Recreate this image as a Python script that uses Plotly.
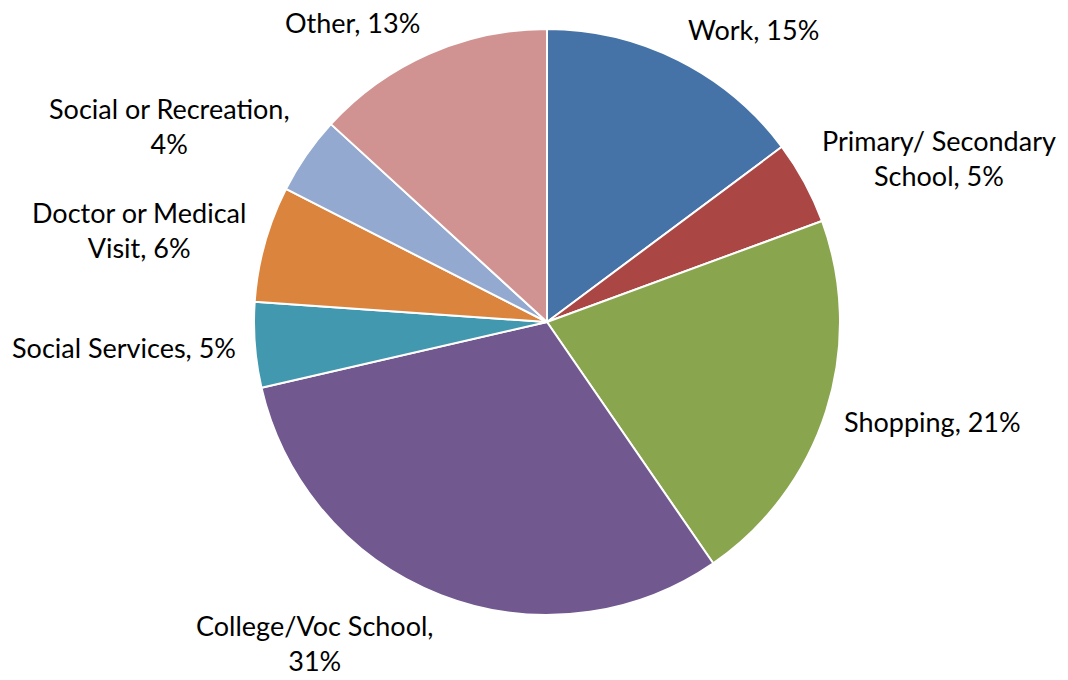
import math
import plotly.graph_objects as go

# Trip purposes, clockwise from 12 o'clock
categories = [
    "Work",
    "Primary/ Secondary School",
    "Shopping",
    "College/Voc School",
    "Social Services",
    "Doctor or Medical Visit",
    "Social or Recreation",
    "Other",
]
shares = [14.8, 4.6, 21.0, 31.0, 4.7, 6.4, 4.3, 13.2]
# Label text before the percentage (<br> marks the line break)
label_names = [
    "Work,",
    "Primary/ Secondary<br>School,",
    "Shopping,",
    "College/Voc School,<br>",
    "Social Services,",
    "Doctor or Medical<br>Visit,",
    "Social or Recreation,<br>",
    "Other,",
]
colors = ["#4572A7", "#AA4643", "#89A54E", "#71588F",
          "#4198AF", "#DB843D", "#93A9CF", "#D19392"]

W, H = 1068, 680
cx, cy, R = 547, 322, 293  # pie centre and radius in pixels

fig = go.Figure(go.Pie(
    labels=categories,
    values=shares,
    sort=False,
    direction="clockwise",
    rotation=0,
    marker=dict(colors=colors, line=dict(color="white", width=2)),
    textinfo="none",
    hoverinfo="label+percent",
    showlegend=False,
    domain=dict(x=[(cx - R) / W, (cx + R) / W],
                y=[(H - cy - R) / H, (H - cy + R) / H]),
))

# Outside labels placed along each slice's mid-angle
font = dict(family="Lato, sans-serif", size=27, color="black")
line_h = 34
total = sum(shares)
annotations = []
acc = 0
gap = 17
for name, v in zip(label_names, shares):
    pct = int(math.floor(v / total * 100 + 0.5))
    text = f"{name}{pct}%" if name.endswith("<br>") else f"{name} {pct}%"
    nlines = text.count("<br>") + 1
    mid = (acc + v / 2) / total * 2 * math.pi
    acc += v
    s, c = math.sin(mid), math.cos(mid)
    px = cx + (R + gap) * s
    py = cy - (R + gap) * c
    # push the label's centre outward by half its height
    py_c = py - c * nlines * line_h / 2
    xa = "left" if s > 0.3 else ("right" if s < -0.3 else "center")
    annotations.append(dict(
        x=px / W, y=1 - py_c / H, xref="paper", yref="paper",
        text=text, showarrow=False, xanchor=xa, yanchor="middle",
        align="center", font=font,
    ))

fig.update_layout(
    width=W, height=H,
    margin=dict(l=0, r=0, t=0, b=0),
    paper_bgcolor="white",
    plot_bgcolor="white",
    annotations=annotations,
)

fig.write_html("out.html")
